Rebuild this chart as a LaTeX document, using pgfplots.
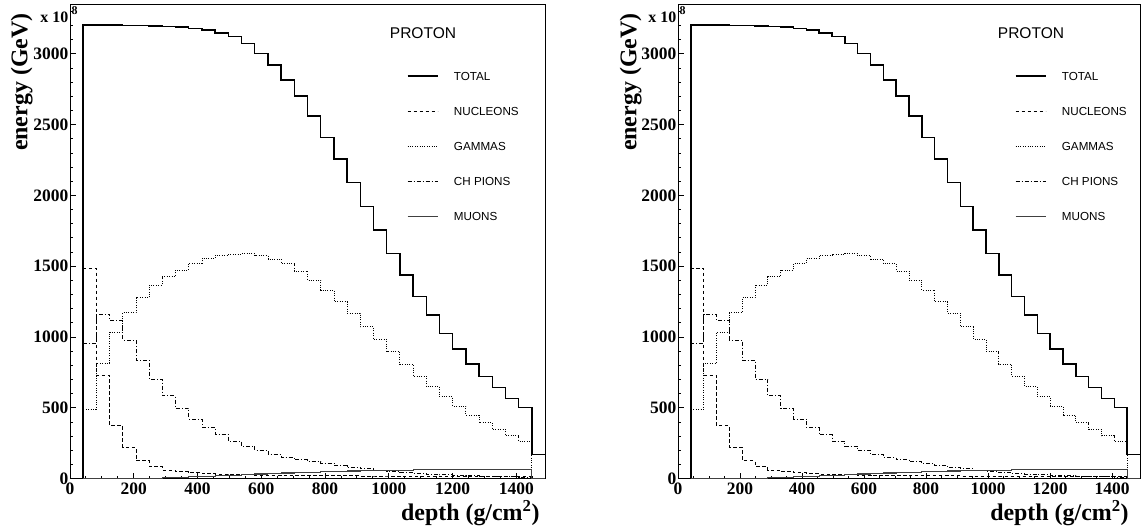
\documentclass[border=0pt]{standalone}
\usepackage{pgfplots}
\pgfplotsset{compat=1.18}
\usepackage{pgfplotstable}
\usepackage{fontspec}
\setmainfont{Liberation Serif}
\newfontfamily\hv{Liberation Sans}

\pgfplotstableread{
x      total nucl gam  pion muon
41.4   0     0    0    0    0
41.4   3205  1486 490  956  0
82.8   3204  732  815  1161 0
124.2  3203  374  1034 1116 0
165.6  3202  222  1172 980  0
207.0  3200  127  1278 838  1
248.3  3198  85   1368 704  3
289.7  3195  61   1427 586  6
331.1  3190  50   1474 497  9
372.5  3180  42   1521 422  13
413.9  3167  36   1556 363  17
455.3  3148  32   1580 313  21
496.7  3122  29   1587 266  25
538.1  3072  27   1592 231  29
579.4  3004  25   1575 200  33
620.8  2921  24   1552 172  37
662.2  2815  23   1519 150  40
703.6  2703  22   1467 135  43
745.0  2562  21   1403 122  46
786.4  2411  21   1333 108  49
827.8  2258  20   1250 92   52
869.2  2090  20   1168 80   54
910.6  1920  19   1073 70   56
951.9  1756  19   984  60   58
993.3  1592  19   897  52   60
1034.7 1439  18   810  45   61
1076.1 1285  18   725  38   62
1117.5 1156  18   650  33   63
1158.9 1027  18   579  28   64
1200.3 916   17   513  24   65
1241.7 810   17   450  20   65
1283.1 720   17   396  17   66
1324.4 643   17   349  15   66
1365.8 568   17   304  13   67
1407.2 501   16   266  11   67
1448.6 172   0    0    0    0
1490.0 172   0    0    0    0
}\data

\pgfplotsset{
  panel/.style={
    scale only axis, width=475bp, height=474.4bp,
    xmin=0, xmax=1490, ymin=0, ymax=3350,
    xtick pos=bottom, ytick pos=left,
    tick align=inside, major tick length=6bp, minor tick length=3bp,
    xtick={0,200,...,1400}, ytick={0,500,...,3000},
    minor xtick={50,100,...,1450}, minor ytick={100,200,...,3300},
    every tick/.style={black, line width=0.9bp},
    axis line style={line width=1bp},
    /pgf/number format/assume math mode=true,
    /pgf/number format/set thousands separator={},
    tick label style={font=\fontsize{17.5}{18}\selectfont\bfseries},
    yticklabel style={inner sep=1.5bp},
    xticklabel style={inner sep=2bp, yshift=-2bp},
    xlabel={depth (g/cm$^{\mathbf{2}}$)},
    ylabel={energy (GeV)},
    label style={font=\fontsize{24}{26}\selectfont\bfseries},
    xlabel style={at={(axis description cs:0.9958,-0.0885)}, anchor=base east},
    ylabel style={at={(axis description cs:-0.09,0.988)}, anchor=base east},
    legend style={draw=none, fill=none, at={(axis description cs:0.709,0.858)}, anchor=north west,
      font=\fontsize{11.7}{12}\selectfont\hv, row sep=26.5bp, inner sep=0pt,
      nodes={inner sep=0pt, text height=8.5bp, text depth=0bp},
      /tikz/every odd column/.append style={column sep=15.6bp}},
    legend image code/.code={\draw[##1] (0bp,0bp) -- (30bp,0bp);},
    legend cell align=left,
  },
  tot/.style={black, line width=1.4bp, const plot mark left},
  nuc/.style={black, line width=0.8bp, dash pattern=on 3.5bp off 2.5bp, const plot mark left},
  gam/.style={black, line width=0.8bp, dash pattern=on 1bp off 1.4bp, const plot mark left},
  pio/.style={black, line width=0.8bp, dash pattern=on 4bp off 2bp on 1bp off 2bp, const plot mark left},
  muo/.style={black!75, line width=1.1bp, const plot mark left},
}

\newcommand{\panelcontent}{%
  \addplot[tot] table[x=x,y=total]{\data};
  \addplot[nuc] table[x=x,y=nucl]{\data};
  \addplot[gam] table[x=x,y=gam]{\data};
  \addplot[pio] table[x=x,y=pion]{\data};
  \addplot[muo] table[x=x,y=muon]{\data};
  \legend{TOTAL,NUCLEONS,GAMMAS,CH PIONS,MUONS}
}

\begin{document}
\begin{tikzpicture}[x=1bp,y=1bp]
\useasboundingbox (0,0) rectangle (1145,531);
\begin{axis}[panel, at={(70bp,52.3bp)}, anchor=south west]
\panelcontent
\end{axis}
\node[anchor=base east, font=\fontsize{16}{17}\selectfont\bfseries, inner sep=0] at (68.5,508.3) {x 10};
\node[anchor=base west, font=\fontsize{12}{13}\selectfont\bfseries, inner sep=0] at (71.5,516) {8};
\node[font=\fontsize{15.6}{16}\selectfont\hv, inner sep=0] at (423,498) {PROTON};

\begin{axis}[panel, width=462bp, at={(678bp,52.3bp)}, anchor=south west,
  legend style={at={(axis description cs:0.7288,0.858)}},
  xlabel style={at={(axis description cs:0.983,-0.0885)}}]
\panelcontent
\end{axis}
\node[anchor=base east, font=\fontsize{16}{17}\selectfont\bfseries, inner sep=0] at (676.5,508.3) {x 10};
\node[anchor=base west, font=\fontsize{12}{13}\selectfont\bfseries, inner sep=0] at (679.5,516) {8};
\node[font=\fontsize{15.6}{16}\selectfont\hv, inner sep=0] at (1031,498) {PROTON};
\end{tikzpicture}
\end{document}
